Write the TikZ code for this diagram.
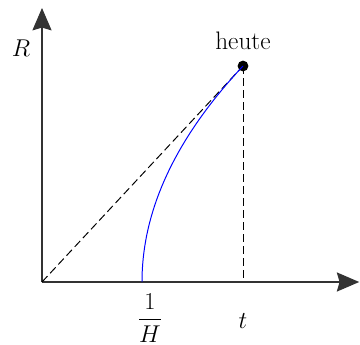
\documentclass[tikz,border=0pt]{standalone}
\usepackage{amsmath, amssymb}
\usepackage{xcolor}
\usepackage{tikz}
\usetikzlibrary{arrows.meta,positioning,calc}
\tikzset{
  axisarrow/.style={
    -{Stealth[length=0.56cm,width=0.48cm,inset=0.07cm]},
    thick,
    draw=black!80
  },
  guideline/.style={
    dash pattern=on 0.2cm off 0.1cm,
    line width=0.7pt
  },
  nowdot/.style={
    circle,
    fill=black,
    inner sep=0pt,
    minimum size=0.27cm
  },
  growthcurve/.style={
    draw=blue,
    line width=0.7pt
  },
  axislabel/.style={
    inner sep=0pt,
    font=\fontsize{18}{22}\selectfont
  }
}

\begin{document}
\begin{tikzpicture}
  \useasboundingbox (-1.05,-1.575) rectangle (7.95,7.05);
  \coordinate (O) at (0,0);
  \coordinate (xend) at (7.93,0);
  \coordinate (yend) at (0,6.85);
  \coordinate (hubble) at (2.5,0);
  \coordinate (tfoot) at (5.025,0);
  \node[nowdot] (now) at (5.025,5.4) {};

  \node[axislabel] at (5.025,6.04) (heute) {heute};
  \node[axislabel] at (-0.525,5.85) (rlabel) {$R$};
  \node[axislabel] at (2.7,-0.9) (hlabel) {$\dfrac{1}{H}$};
  \node[axislabel] at (5.025,-0.975) (tlabel) {$t$};

  \draw[axisarrow] (O) -- (xend);
  \draw[axisarrow] (O) -- (yend);
  \draw[guideline] (O) -- (now.center);
  \draw[guideline] (now.center) -- (tfoot);
  \draw[growthcurve] (hubble) .. controls (2.5,1.8) and (3.342,3.6) .. (now.center);
\end{tikzpicture}
\end{document}
